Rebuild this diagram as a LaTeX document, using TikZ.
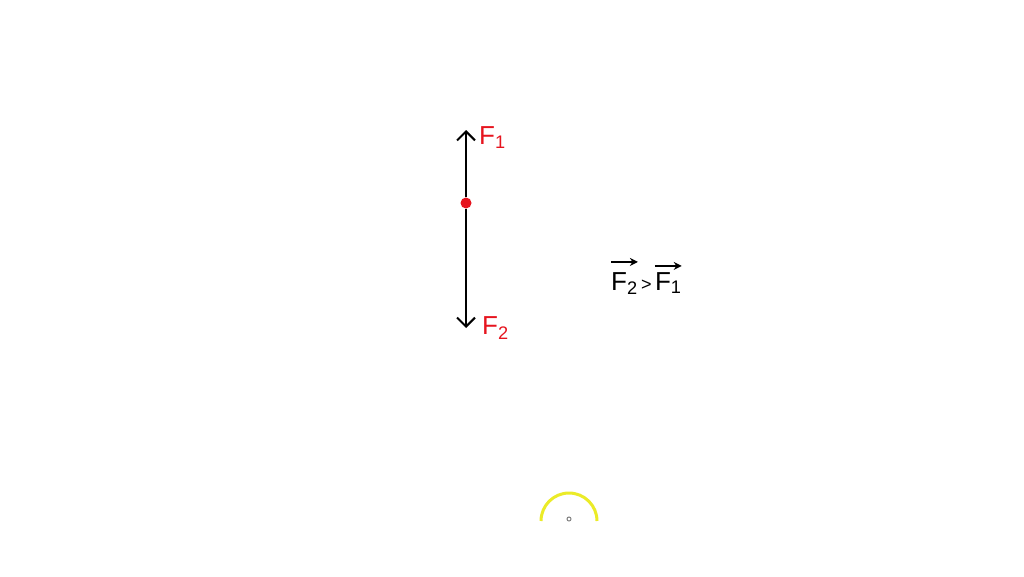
\documentclass[tikz,border=0pt]{standalone}
\usepackage{fontspec}
\setmainfont{Liberation Sans}
\usepackage{xcolor}
\usetikzlibrary{arrows.meta,positioning}
\definecolor{forcered}{RGB}{230,20,30}
\definecolor{cursoryellow}{RGB}{235,235,40}

\begin{document}
\begin{tikzpicture}[x=1pt, y=-1pt, auto]
            \useasboundingbox (0,0) rectangle (1024,576);
            \tikzset{force/.style={line width=2pt, -{Straight Barb[length=9pt, width=18pt, line width=2pt]}},
                     flabel/.style={text=forcered, font=\fontsize{26}{28}\selectfont, inner sep=0pt},
                     cmptext/.style={font=\fontsize{26}{28}\selectfont, inner sep=0pt, anchor=base west},
                     vecbar/.style={line width=2.2pt, -{Stealth[length=8pt, width=8pt]}}}

            % Body and forces
            \coordinate (top) at (466,130);
            \coordinate (bot) at (466,328);
            \node[circle, fill=forcered, inner sep=0pt, minimum size=11pt] (body) at (466,203) {};
            \draw[force] (body) -- (top);
            \draw[force] (body) -- (bot);
            \node[flabel, anchor=west] (F1) at (479,138) {F\textsubscript{1}};
            \node[flabel, anchor=west] (F2) at (482,328) {F\textsubscript{2}};

            % Comparison
            \node[cmptext] (v2) at (611,290) {F\textsubscript{2}};
            \node[cmptext, right=3pt of v2.base east, anchor=base west] (gt) {\fontsize{18}{20}\selectfont >};
            \node[cmptext, right=3pt of gt.base east, anchor=base west] (v1) {F\textsubscript{1}};
            \draw[vecbar] ([yshift=10pt]v2.north west) -- ([yshift=10pt]v2.north east);
            \draw[vecbar] ([yshift=6pt]v1.north west) -- ([yshift=6pt]v1.north east);

            % Cursor
            \draw[cursoryellow, line width=3pt] (541,521) arc (180:360:28);
            \node[circle, draw=gray, line width=1pt, inner sep=0pt, minimum size=4pt] (dot) at (569,519) {};
        \end{tikzpicture}
\end{document}
